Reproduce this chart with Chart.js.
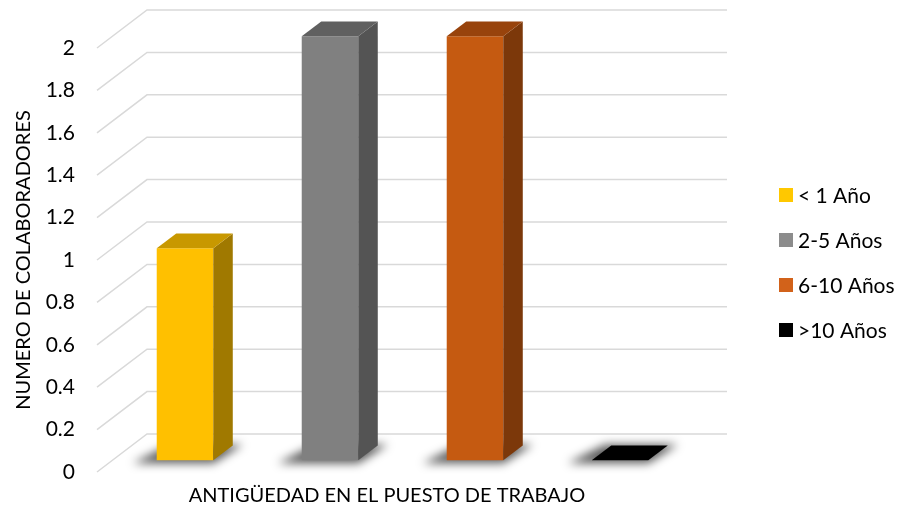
<!DOCTYPE html>
<html>
<head>
<meta charset="utf-8">
<script src="https://cdn.jsdelivr.net/npm/chart.js@4.4.1/dist/chart.umd.min.js"></script>
<style>
html,body{margin:0;padding:0;background:#fff;}
#wrap{width:899px;height:510px;position:relative;}
</style>
</head>
<body>
<div id="wrap"><canvas id="c" width="899" height="510"></canvas></div>
<script>
const categories = ["< 1 Año", "2-5 Años", "6-10 Años", ">10 Años"];
const values = [1, 2, 2, 0];
const yTicks = [0, 0.2, 0.4, 0.6, 0.8, 1, 1.2, 1.4, 1.6, 1.8, 2];
const frontColors = ["#FFC000", "#808080", "#C55A11", "#000000"];
const topColors = ["#C89800", "#606060", "#98430C", "#000000"];
const sideColors = ["#A07900", "#545454", "#7C380A", "#000000"];
const legendColors = ["#FFC800", "#8C8C8C", "#D2621A", "#000000"];
const xTitle = "ANTIGÜEDAD EN EL PUESTO DE TRABAJO";
const yTitle = "NUMERO DE COLABORADORES";

const FONT = "Lato, 'Open Sans', sans-serif";
const DEPTH = {x: 50, y: -38};
const T_FRONT = 0.31, T_DEPTH = 0.39;

function poly(ctx, pts, fill) {
  ctx.beginPath();
  ctx.moveTo(pts[0][0], pts[0][1]);
  for (let i = 1; i < pts.length; i++) ctx.lineTo(pts[i][0], pts[i][1]);
  ctx.closePath();
  ctx.fillStyle = fill;
  ctx.fill();
}

const threeD = {
  id: 'threeD',
  beforeDatasetsDraw(chart) {
    const ctx = chart.ctx;
    const ca = chart.chartArea;
    const ys = chart.scales.y;
    ctx.save();
    ctx.strokeStyle = "#D9D9D9";
    ctx.lineWidth = 1.5;
    yTicks.forEach(v => {
      const y = ys.getPixelForValue(v);
      ctx.beginPath();
      ctx.moveTo(ca.left, y);
      ctx.lineTo(ca.left + DEPTH.x, y + DEPTH.y);
      ctx.lineTo(ca.right + DEPTH.x, y + DEPTH.y);
      ctx.stroke();
    });
    const meta = chart.getDatasetMeta(0);
    const fdx = DEPTH.x * T_FRONT, fdy = DEPTH.y * T_FRONT;
    const ddx = DEPTH.x * T_DEPTH, ddy = DEPTH.y * T_DEPTH;
    meta.data.forEach((el, i) => {
      const w = el.width;
      const xl = el.x - w / 2 + fdx, xr = el.x + w / 2 + fdx;
      const yb = el.base + fdy;
      ctx.save();
      ctx.filter = 'blur(5px)';
      poly(ctx, [[xl - 24, yb + 3], [xr, yb + 3], [xr + ddx + 10, yb + ddy - 1], [xl + ddx - 6, yb + ddy - 1]], 'rgba(0,0,0,0.65)');
      ctx.restore();
    });
    meta.data.forEach((el, i) => {
      const w = el.width;
      const xl = el.x - w / 2 + fdx, xr = el.x + w / 2 + fdx;
      const yt = el.y + fdy, yb = el.base + fdy;
      if (yb - yt > 0.5) {
        poly(ctx, [[xl, yt], [xr, yt], [xr, yb], [xl, yb]], frontColors[i]);
        poly(ctx, [[xr, yt], [xr + ddx, yt + ddy], [xr + ddx, yb + ddy], [xr, yb]], sideColors[i]);
      }
      poly(ctx, [[xl, yt], [xr, yt], [xr + ddx, yt + ddy], [xl + ddx, yt + ddy]], topColors[i]);
    });
    ctx.restore();
    return false;
  },
  afterDraw(chart) {
    const ctx = chart.ctx;
    ctx.save();
    ctx.font = "21px " + FONT;
    ctx.textBaseline = 'middle';
    ctx.textAlign = 'left';
    const rowY = [195, 240, 285, 330];
    categories.forEach((c, i) => {
      ctx.fillStyle = legendColors[i];
      ctx.fillRect(779, rowY[i] - 7, 14, 14);
      ctx.fillStyle = "#000";
      ctx.fillText(c, 798, rowY[i] + 1);
    });
    ctx.restore();
  }
};

new Chart(document.getElementById('c'), {
  type: 'bar',
  data: {
    labels: categories,
    datasets: [{
      label: "Colaboradores",
      data: values,
      backgroundColor: frontColors,
      barPercentage: 0.39,
      categoryPercentage: 1.0
    }]
  },
  options: {
    responsive: false,
    animation: false,
    devicePixelRatio: 1,
    layout: {padding: {left: 0, right: 222, top: 48, bottom: 0}},
    plugins: {legend: {display: false}, tooltip: {enabled: false}},
    scales: {
      x: {
        grid: {display: false},
        border: {display: false},
        ticks: {display: false},
        title: {display: true, text: xTitle, color: "#000", font: {family: FONT, size: 20}, padding: {top: 0, bottom: 2}},
        afterFit(s) { s.height = 38; }
      },
      y: {
        min: 0, max: 2,
        grid: {display: false, drawTicks: false},
        border: {display: false},
        afterBuildTicks(s) { s.ticks = yTicks.map(v => ({value: v})); },
        ticks: {color: "#000", font: {family: FONT, size: 21}, padding: 22,
          callback: v => String(v)},
        title: {display: true, text: yTitle, color: "#000", font: {family: FONT, size: 20}, padding: {top: 12, bottom: 0}},
        afterFit(s) { s.width = 97; }
      }
    }
  },
  plugins: [threeD]
});
</script>
</body>
</html>
